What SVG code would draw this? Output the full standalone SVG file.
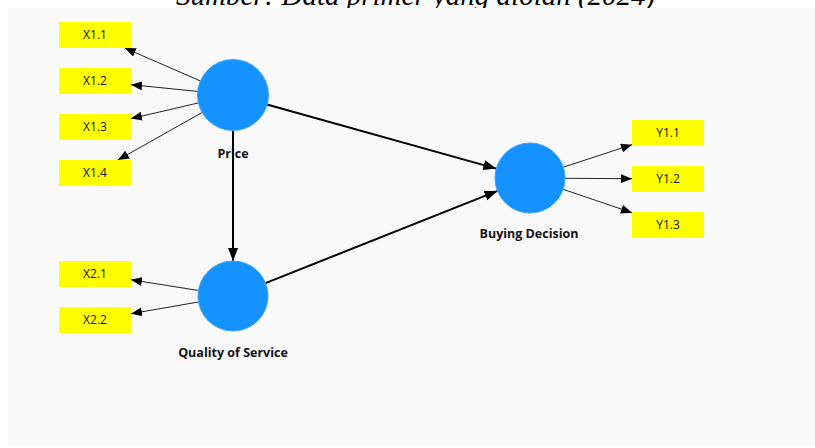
<svg xmlns="http://www.w3.org/2000/svg" width="815" height="448" viewBox="0 0 815 448">
  <style>
    .caption { font-family: "Liberation Serif", "Times New Roman", serif; font-style: italic; font-size: 29px; fill: #000; }
    .panel { fill: #f9f9f9; }
    .latent { fill: #1492fe; stroke: #3aa2fb; stroke-width: 1; }
    .ind { fill: #ffff00; }
    .ind-text { font-family: "Open Sans", "Noto Sans", sans-serif; font-size: 12px; fill: #111; text-anchor: middle; }
    .lv-text { font-family: "Open Sans", "Noto Sans", sans-serif; font-size: 12.5px; font-weight: bold; fill: #111; text-anchor: middle; }
    .thin { stroke: #222; stroke-width: 1; fill: none; marker-end: url(#headThin); }
    .thick { stroke: #000; stroke-width: 2; fill: none; marker-end: url(#headThick); }
  </style>
  <defs>
    <marker id="headThin" markerUnits="userSpaceOnUse" markerWidth="12" markerHeight="9" refX="11" refY="4.5" orient="auto">
      <path d="M0,0 L11,4.5 L0,9 z" fill="#000"/>
    </marker>
    <marker id="headThick" markerUnits="userSpaceOnUse" markerWidth="14" markerHeight="11" refX="13" refY="5" orient="auto">
      <path d="M0,0 L13,5 L0,10 z" fill="#000"/>
    </marker>
  </defs>

  <text class="caption" x="176" y="4.5">Sumber: Data primer yang diolah (2024)</text>
  <rect class="panel" x="8" y="8" width="807" height="438"/>

  <g id="connectors">
    <!-- Price indicators -->
    <line class="thin" x1="200" y1="80.8" x2="124.8" y2="48"/>
    <line class="thin" x1="197.5" y1="91.4" x2="131" y2="84.7"/>
    <line class="thin" x1="198" y1="103" x2="131" y2="118.6"/>
    <line class="thin" x1="202" y1="112.5" x2="117.9" y2="160"/>
    <!-- Quality of Service indicators -->
    <line class="thin" x1="198.4" y1="290.5" x2="131" y2="279.7"/>
    <line class="thin" x1="198.5" y1="302" x2="131" y2="313.7"/>
    <!-- Buying Decision indicators -->
    <line class="thin" x1="563.3" y1="167.2" x2="632" y2="144.7"/>
    <line class="thin" x1="565" y1="178.3" x2="632" y2="178.7"/>
    <line class="thin" x1="563.1" y1="189.3" x2="632" y2="212.7"/>
    <!-- structural paths -->
    <line class="thick" x1="267" y1="104.5" x2="496.3" y2="168.6"/>
    <line class="thick" x1="233" y1="131" x2="233" y2="261"/>
    <line class="thick" x1="265.5" y1="283.1" x2="497.5" y2="190.9"/>
  </g>

  <g id="price">
    <circle class="latent" cx="233" cy="95" r="35.5"/>
    <text class="lv-text" x="233" y="157.5">Price</text>
  </g>
  <g id="quality">
    <circle class="latent" cx="233" cy="296" r="35"/>
    <text class="lv-text" x="233" y="356.5">Quality of Service</text>
  </g>
  <g id="buying">
    <circle class="latent" cx="530" cy="178" r="35"/>
    <text class="lv-text" x="529" y="237.5">Buying Decision</text>
  </g>

  <g id="x11"><rect class="ind" x="59" y="22" width="72" height="26"/><text class="ind-text" x="95" y="39">X1.1</text></g>
  <g id="x12"><rect class="ind" x="59" y="68" width="72" height="26"/><text class="ind-text" x="95" y="85">X1.2</text></g>
  <g id="x13"><rect class="ind" x="59" y="114" width="72" height="26"/><text class="ind-text" x="95" y="131">X1.3</text></g>
  <g id="x14"><rect class="ind" x="59" y="160" width="72" height="26"/><text class="ind-text" x="95" y="177">X1.4</text></g>
  <g id="x21"><rect class="ind" x="59" y="261" width="72" height="26"/><text class="ind-text" x="95" y="278">X2.1</text></g>
  <g id="x22"><rect class="ind" x="59" y="307" width="72" height="26"/><text class="ind-text" x="95" y="324">X2.2</text></g>
  <g id="y11"><rect class="ind" x="632" y="120" width="72" height="26"/><text class="ind-text" x="668" y="137">Y1.1</text></g>
  <g id="y12"><rect class="ind" x="632" y="166" width="72" height="26"/><text class="ind-text" x="668" y="183">Y1.2</text></g>
  <g id="y13"><rect class="ind" x="632" y="212" width="72" height="26"/><text class="ind-text" x="668" y="229">Y1.3</text></g>
</svg>
